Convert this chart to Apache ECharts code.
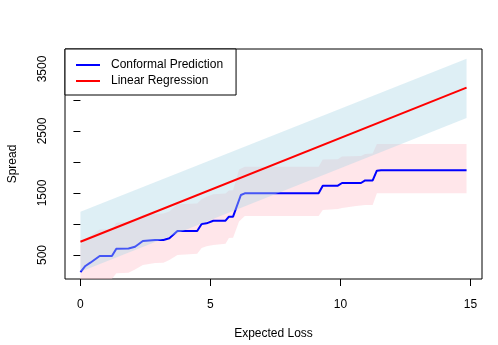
<!DOCTYPE html>
<html>
<head>
<meta charset="utf-8">
<script src="https://cdn.jsdelivr.net/npm/echarts@6/dist/echarts.min.js"></script>
<style>html,body{margin:0;padding:0;background:#fff;}#c{width:498px;height:345px;}</style>
</head>
<body>
<div id="c"></div>
<script>
// Conformal prediction (step line) [x, spread]
var cpLine = [[0,225],[0.19,323],[0.38,376],[0.74,484],[1.21,484],[1.38,602],[1.85,605],[2.1,634],[2.4,726],[2.87,742],[3.19,742],[3.42,769],[3.73,887],[4.49,887],[4.66,1000],[4.85,1011],[5.11,1053],[5.58,1053],[5.71,1118],[5.87,1118],[6.17,1468],[6.32,1495],[9.16,1495],[9.32,1618],[9.9,1618],[10.06,1661],[10.79,1661],[10.95,1703],[11.24,1703],[11.4,1860],[11.56,1865],[14.85,1865]];
// Conformal band upper / lower
var cpUpper = [[0,660],[0.19,750],[0.38,805],[0.74,910],[1.21,915],[1.38,1020],[1.85,1035],[2.1,1065],[2.4,1150],[3.19,1170],[3.42,1200],[3.73,1320],[4.49,1330],[4.66,1400],[4.85,1440],[5.11,1480],[5.58,1490],[5.71,1540],[5.87,1545],[6.1,1880],[6.32,1924],[9.16,1924],[9.32,2040],[9.9,2045],[10.06,2090],[10.79,2095],[10.95,2130],[11.24,2135],[11.4,2290],[14.85,2290]];
var cpLower = [[0,-145],[0.19,-50],[0.38,5],[0.74,110],[1.21,115],[1.38,205],[1.85,215],[2.1,265],[2.4,339],[2.87,370],[3.19,375],[3.42,420],[3.73,500],[4.49,520],[4.66,613],[4.85,640],[5.11,661],[5.58,680],[5.71,774],[5.87,780],[6.1,1040],[6.32,1129],[9.16,1129],[9.32,1226],[9.9,1240],[10.06,1258],[10.6,1290],[10.95,1306],[11.24,1306],[11.4,1495],[14.85,1495]];
// Linear regression line and band
var lrLine = [[0,714],[14.85,3200]];
var lrUpper = [[0,1198],[14.85,3666]];
var lrLower = [[0,230],[14.85,2710]];
var xTicks = [0,5,10,15];
var yTicks = [500,1000,1500,2000,2500,3000,3500];
var yLabels = [500,1500,2500,3500];

var FONT = 'Liberation Sans, Arial, Helvetica, sans-serif';
function band(name, upper, lower, color, z) {
  return {
    type: 'custom', name: name, z: z, clip: true, silent: true,
    data: [[0, 500]],
    renderItem: function (params, api) {
      var pts = upper.map(function (p) { return api.coord(p); })
        .concat(lower.slice().reverse().map(function (p) { return api.coord(p); }));
      var cs = params.coordSys;
      return {
        type: 'polygon',
        shape: { points: pts },
        style: { fill: color, stroke: null },
        clipPath: { type: 'rect', shape: { x: cs.x, y: cs.y, width: cs.width, height: cs.height } }
      };
    }
  };
}
var chart = echarts.init(document.getElementById('c'), null, { renderer: 'canvas' });
chart.setOption({
  animation: false,
  backgroundColor: '#fff',
  textStyle: { fontFamily: FONT },
  grid: { left: 65, right: 16, top: 49, bottom: 66, containLabel: false, outerBoundsMode: 'none',
          show: true, borderColor: '#000', borderWidth: 1, backgroundColor: 'transparent' },
  legend: {
    left: 65, top: 49, orient: 'vertical',
    data: ['Conformal Prediction', 'Linear Regression'],
    icon: 'rect', itemWidth: 24, itemHeight: 2, itemGap: 2,
    padding: [9, 13, 7, 11],
    borderColor: '#000', borderWidth: 1, backgroundColor: '#fff',
    textStyle: { fontSize: 12, color: '#000', fontFamily: FONT, lineHeight: 14, padding: [0, 0, 0, 6] },
    z: 10
  },
  xAxis: {
    type: 'value', min: -0.594, max: 15.444,
    name: 'Expected Loss', nameLocation: 'middle', nameGap: 49,
    nameTextStyle: { fontSize: 12, color: '#000', fontFamily: FONT },
    axisLine: { show: false },
    axisTick: { show: true, inside: false, length: 7, lineStyle: { color: '#000' }, customValues: xTicks },
    axisLabel: { fontSize: 12, color: '#000', margin: 20, fontFamily: FONT, customValues: xTicks,
                 formatter: function (v) { return String(v); } },
    splitLine: { show: false }
  },
  yAxis: {
    type: 'value', min: 113, max: 3822,
    name: 'Spread', nameLocation: 'middle', nameGap: 46, nameRotate: 90,
    nameTextStyle: { fontSize: 12, color: '#000', fontFamily: FONT },
    axisLine: { show: false },
    axisTick: { show: true, inside: false, length: 7, lineStyle: { color: '#000' }, customValues: yTicks },
    axisLabel: { fontSize: 12, color: '#000', margin: 16, rotate: 90, fontFamily: FONT, customValues: yLabels,
                 formatter: function (v) { return String(v); } },
    splitLine: { show: false }
  },
  series: [
    band('cpBand', cpUpper, cpLower, 'rgba(255,192,203,0.4)', 1),
    {
      type: 'line', name: 'Conformal Prediction', data: cpLine, z: 2,
      showSymbol: false, symbol: 'none',
      lineStyle: { color: '#0000FF', width: 2 }, itemStyle: { color: '#0000FF' }
    },
    band('lrBand', lrUpper, lrLower, 'rgba(173,216,230,0.4)', 3),
    {
      type: 'line', name: 'Linear Regression', data: lrLine, z: 4,
      showSymbol: false, symbol: 'none',
      lineStyle: { color: '#FF0000', width: 2 }, itemStyle: { color: '#FF0000' }
    }
  ]
});
</script>
</body>
</html>
